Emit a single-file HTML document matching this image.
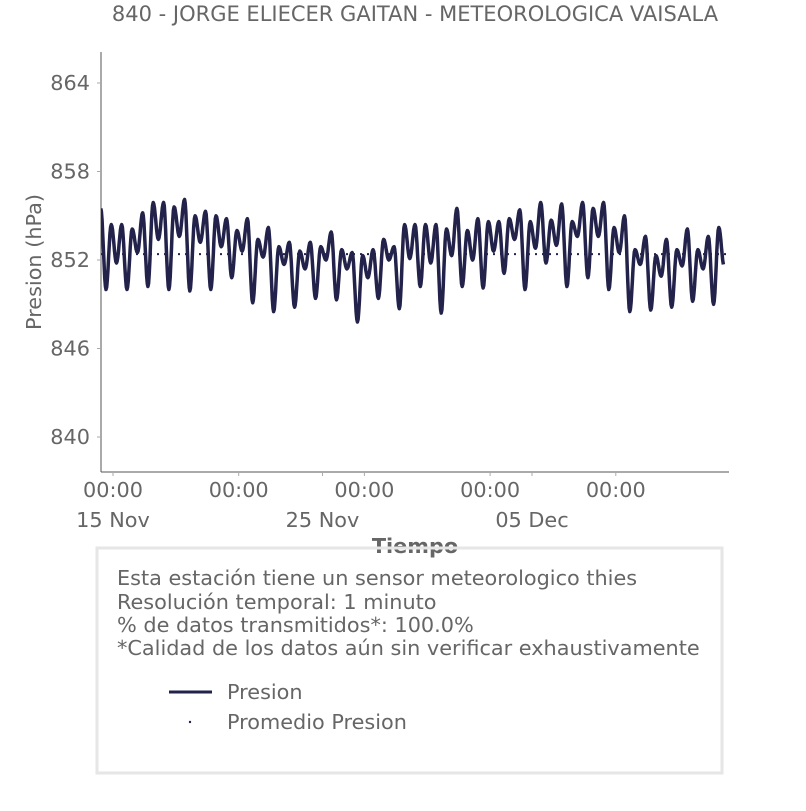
<!DOCTYPE html>
<html><head><meta charset="utf-8"><style>
body{margin:0;background:#fff;}
svg text{font-family:"DejaVu Sans","Liberation Sans",sans-serif;fill:#666;}
</style></head><body>
<svg width="806" height="806" viewBox="0 0 806 806">
<defs><clipPath id="plotclip"><rect x="101" y="52" width="628" height="420"/></clipPath></defs>
<text x="415" y="21" font-size="21" text-anchor="middle">840 - JORGE ELIECER GAITAN - METEOROLOGICA VAISALA</text>
<g id="axes"></g>
<g id="series" clip-path="url(#plotclip)"></g>
<text transform="translate(41,262) rotate(-90)" font-size="20.8" text-anchor="middle">Presion (hPa)</text>
<text x="415" y="553" font-size="20.8" font-weight="bold" text-anchor="middle">Tiempo</text>
<rect x="97" y="548" width="625" height="225" fill="none" stroke="#e6e6e6" stroke-width="3"/>
<g font-size="20.8">
<text x="117" y="585">Esta estación tiene un sensor meteorologico thies</text>
<text x="117" y="609">Resolución temporal: 1 minuto</text>
<text x="117" y="632">% de datos transmitidos*: 100.0%</text>
<text x="117" y="655">*Calidad de los datos aún sin verificar exhaustivamente</text>
</g>
<g>
<line x1="169" y1="692" x2="212" y2="692" stroke="#22224a" stroke-width="3"/>
<text x="227" y="699" font-size="20.8">Presion</text>
<circle cx="190" cy="722" r="1.2" fill="#22224a"/>
<text x="227" y="729" font-size="20.8">Promedio Presion</text>
</g>
</svg>
<script>
const yTicks=[840,846,852,858,864];
const majorDays=[1,7,13,19,25];
const dateLabels=["15 Nov","25 Nov","05 Dec"];
const dateDays=[1,11,21];
const meanValue=852.4;
// daily values starting 14 Nov (day 0)
const peakAM=[855.5,854.4,855.2,855.9,856.1,855.3,854.8,854.8,854.2,853.2,853.2,853.9,852.5,852.7,852.9,854.4,854.4,855.5,854.8,854.6,855.4,855.9,855.8,855.9,855.9,855.0,853.6,853.4,854.1,853.6];
const troughPM=[850.0,850.0,850.2,850.0,849.9,850.0,850.8,849.1,848.5,848.8,849.4,849.3,847.8,849.4,848.7,850.2,848.4,850.2,850.1,851.1,850.0,851.8,850.2,850.8,850.0,848.5,848.6,848.8,849.2,849.0];
const peakPM=[854.4,854.1,855.9,855.6,855.0,855.0,854.0,853.4,852.9,852.6,852.9,852.7,852.3,853.4,854.4,854.4,854.1,854.0,854.6,854.8,854.6,854.7,854.6,855.5,854.2,852.7,852.3,852.7,852.7,854.2];
const dipAM=[851.8,852.5,853.4,853.6,853.2,852.9,852.6,852.2,851.7,851.4,852.0,851.4,850.8,852.0,852.1,851.8,852.3,852.0,852.6,853.4,852.8,853.0,853.6,853.6,852.5,851.7,850.9,851.6,851.4,851.6];

const NS="http://www.w3.org/2000/svg";
const X0=101,X1=729,Y0=52,Y1=472;
function xScale(days){return 113+(days-1)*20.95;}
function yScale(v){return 260-(v-852)*14.75;}
function mk(tag,attrs,parent){const e=document.createElementNS(NS,tag);for(const k in attrs)e.setAttribute(k,attrs[k]);parent.appendChild(e);return e;}
const axes=document.getElementById('axes');
let s=mk('line',{x1:X0,y1:Y0,x2:X0,y2:Y1,stroke:'#555','stroke-width':1},axes);


s=mk('line',{x1:X0,y1:Y1,x2:X1,y2:Y1,stroke:'#555','stroke-width':1},axes);


yTicks.forEach(v=>{const y=yScale(v);
 const t=mk('line',{x1:X0-4,y1:y,x2:X0,y2:y,stroke:'#aaa'},axes);
 
 
 const l=mk('text',{x:90,y:y+7,'font-size':20.8,'text-anchor':'end'},axes);l.textContent=v;
 
 
});
majorDays.forEach(d=>{const x=xScale(d);
 const t=mk('line',{x1:x,y1:Y1,x2:x,y2:Y1+4,stroke:'#aaa'},axes);
 
 
 const l=mk('text',{x:x,y:497,'font-size':20.8,'text-anchor':'middle'},axes);l.textContent='00:00';
 
 
});
dateDays.forEach((d,i)=>{const x=xScale(d);
 const t=mk('line',{x1:x,y1:Y1,x2:x,y2:Y1+4,stroke:'#aaa'},axes);
 
 
 const l=mk('text',{x:x,y:527,'font-size':20.8,'text-anchor':'middle'},axes);l.textContent=dateLabels[i];
 
 
});
const pts=[];
for(let d=0;d<peakAM.length;d++){
 pts.push([d+10/24,peakAM[d]]);
 pts.push([d+16/24,troughPM[d]]);
 pts.push([d+22/24,peakPM[d]]);
 pts.push([d+28/24,dipAM[d]]);
}
let dstr='';
for(let i=0;i<pts.length-1;i++){
 const [t0,v0]=pts[i],[t1,v1]=pts[i+1];
 for(let k=0;k<8;k++){const f=k/8,m=(1-Math.cos(Math.PI*f))/2;
  const t=t0+(t1-t0)*f,v=v0+(v1-v0)*m;
  dstr+=(dstr?'L':'M')+xScale(t).toFixed(1)+','+yScale(v).toFixed(1);}
}
const ser=document.getElementById('series');
const line=mk('path',{d:dstr,fill:'none',stroke:'#22224a','stroke-width':3.5,'stroke-linejoin':'round'},ser);


const my=yScale(meanValue);
const mean=mk('line',{x1:X0,y1:my,x2:X1,y2:my,stroke:'#22224a','stroke-width':2,'stroke-dasharray':'2 5'},ser);


</script>
</body></html>
